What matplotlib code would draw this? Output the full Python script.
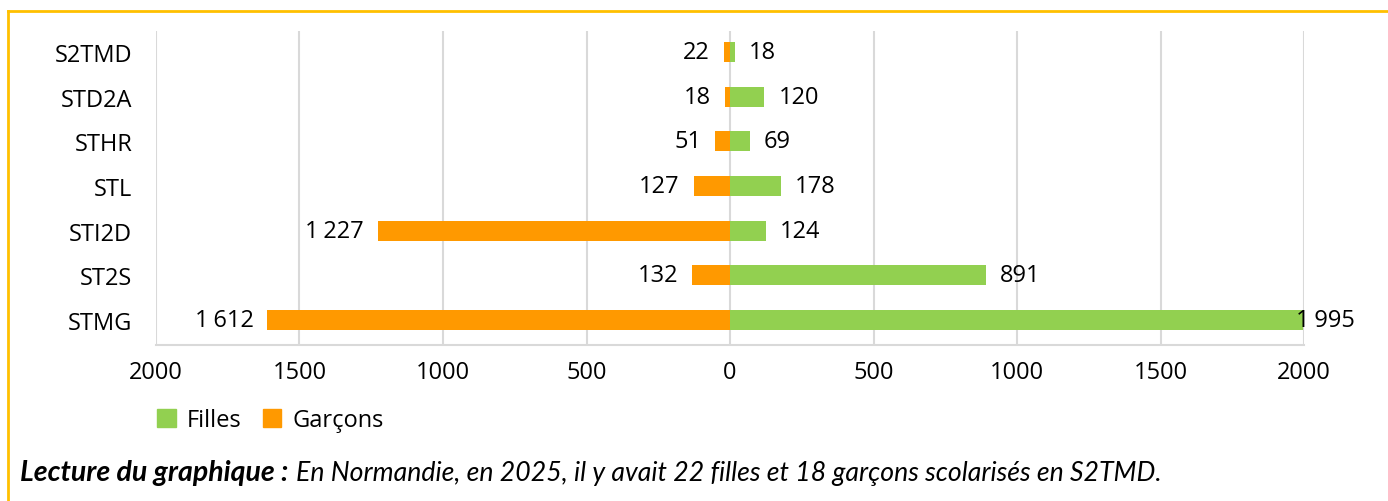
import numpy as np
import matplotlib
matplotlib.use('Agg')
from matplotlib import pyplot as plt
from matplotlib.patches import Patch
from matplotlib.lines import Line2D

# data, bottom to top
series = ['STMG', 'ST2S', 'STI2D', 'STL', 'STHR', 'STD2A', 'S2TMD']
filles = [1995, 891, 124, 178, 69, 120, 18]
garcons = [1612, 132, 1227, 127, 51, 18, 22]
ticks = [-2000, -1500, -1000, -500, 0, 500, 1000, 1500, 2000]

green = '#92D050'
orange = '#FF9900'
grid_c = '#D9D9D9'
fs = 17

plt.rcParams['font.family'] = ['Open Sans', 'DejaVu Sans']

def fmt(v):
    return f'{v:,}'.replace(',', '\u202f') if v >= 1000 else str(v)

fig = plt.figure(figsize=(13.88, 5.02), dpi=100)
ax = fig.add_axes([156/1388, 156/502, 1148/1388, 314/502])

y = np.arange(len(series))
ax.barh(y, filles, height=0.45, color=green, zorder=3)
ax.barh(y, [-g for g in garcons], height=0.45, color=orange, zorder=3)

for yi, f, g in zip(y, filles, garcons):
    if f > 1900:
        ax.annotate(fmt(f), (f, yi), xytext=(-5, 0), textcoords='offset points',
                    va='center', ha='left', fontsize=fs)
    else:
        ax.annotate(fmt(f), (f, yi), xytext=(10, 0), textcoords='offset points',
                    va='center', ha='left', fontsize=fs)
    ax.annotate(fmt(g), (-g, yi), xytext=(-10, 0), textcoords='offset points',
                va='center', ha='right', fontsize=fs)

ax.set_xlim(-2000, 2000)
ax.set_ylim(-0.56, 6.47)
ax.set_xticks(ticks)
ax.set_xticklabels([str(abs(t)) for t in ticks], fontsize=fs)
ax.set_yticks(y)
ax.set_yticklabels(series, fontsize=fs)
ax.tick_params(length=0)
ax.tick_params(axis='x', pad=11)
ax.tick_params(axis='y', pad=17)
ax.grid(axis='x', color=grid_c, lw=1.5, zorder=0)
for s in ['top', 'right', 'left']:
    ax.spines[s].set_visible(False)
ax.spines['bottom'].set_color(grid_c)
ax.spines['bottom'].set_linewidth(1.5)

handles = [Patch(color=green, label='Filles'), Patch(color=orange, label='Garçons')]
fig.legend(handles=handles, loc='center left', bbox_to_anchor=(157/1388, 1 - 421/502),
           ncol=2, frameon=False, fontsize=fs, handlelength=0.8, handleheight=0.8,
           handletextpad=0.45, columnspacing=0.9, borderaxespad=0, borderpad=0)

# caption: bold italic lead, then italic sentence right after it
cap_font = ['Lato', 'DejaVu Sans']
lead = fig.text(20/1388, 1 - 473/502, 'Lecture du graphique :', fontsize=20.5,
                fontweight='bold', style='italic', va='center', ha='left', family=cap_font)
fig.canvas.draw()
bb = lead.get_window_extent()
fig.text((bb.x1 + 8)/1388, 1 - 473/502,
         'En Normandie, en 2025, il y avait 22 filles et 18 garçons scolarisés en S2TMD.',
         fontsize=19.2, style='italic', va='center', ha='left', family=cap_font)

# golden frame
fig.add_artist(Line2D([8/1388, 1], [1 - 12/502, 1 - 12/502], color='#FFC000', lw=2))
fig.add_artist(Line2D([8/1388, 8/1388], [0, 1 - 12/502], color='#FFC000', lw=2))

fig.savefig('out.png', dpi=100)
